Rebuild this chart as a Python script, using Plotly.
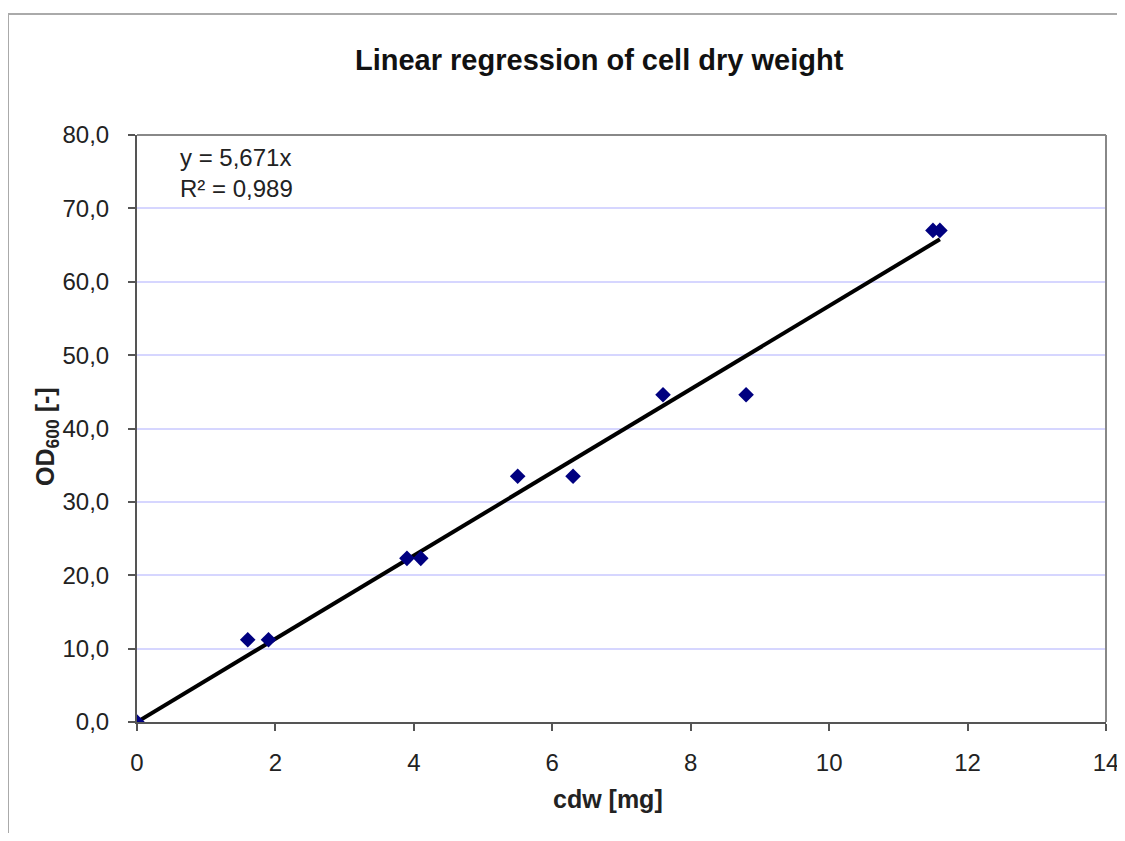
import plotly.graph_objects as go

cdw = [0, 1.6, 1.9, 3.9, 4.1, 5.5, 6.3, 7.6, 8.8, 11.5, 11.6]
od600 = [0, 11.2, 11.2, 22.3, 22.3, 33.5, 33.5, 44.6, 44.6, 67.0, 67.0]
slope = 5.671
fit_x = [0, 11.6]
fit_y = [slope * v for v in fit_x]
eq_text = "y = 5,671x<br>R² = 0,989"

# page body margin offset (8px) compensation; keep page within the window
OFF = 8
W, H = 1125 - OFF - 4, 841 - 2 * OFF
L, R, T, B = 137 - OFF, 1106 - OFF, 135 - OFF, 722 - OFF
ml, mr, mt, mb = L, W - R, T, H - B
pw, ph = R - L, B - T

def px(xs):
    return (xs - OFF - L) / pw

def py(ys):
    return (B - (ys - OFF)) / ph

FONT = "Liberation Sans, Arial, sans-serif"

fig = go.Figure()
fig.add_trace(go.Scatter(x=fit_x, y=fit_y, mode="lines",
                         line=dict(color="black", width=4), hoverinfo="skip",
                         showlegend=False))
fig.add_trace(go.Scatter(x=cdw, y=od600, mode="markers",
                         marker=dict(symbol="diamond", size=12, color="#000080"),
                         showlegend=False))

fig.update_layout(
    width=W, height=H,
    margin=dict(l=ml, r=mr, t=mt, b=mb, pad=0, autoexpand=False),
    paper_bgcolor="white", plot_bgcolor="white",
    separators=", ",
    font=dict(family=FONT, size=24, color="#222"),
    xaxis=dict(range=[0, 14], dtick=2, tick0=0, showgrid=False, zeroline=False,
               automargin=False,
               showline=True, linecolor="#555", linewidth=2, mirror=False,
               ticks="outside", ticklen=7, tickcolor="#555", tickwidth=1.5,
               ticklabelstandoff=11, ticklabeloverflow="allow",
               tickfont=dict(size=24, color="#222")),
    yaxis=dict(range=[0, 80], dtick=10, tick0=0, tickformat=".1f",
               automargin=False,
               showgrid=True, gridcolor="#d6d6ff", gridwidth=1.5, zeroline=False,
               showline=True, linecolor="#555", linewidth=2,
               ticks="outside", ticklen=7, tickcolor="#555", tickwidth=1.5,
               ticklabelstandoff=14,
               tickfont=dict(size=24, color="#222")),
    shapes=[
        # plot area top and right border
        dict(type="line", xref="paper", yref="paper", x0=0, x1=1, y0=1, y1=1,
             line=dict(color="#888", width=2)),
        dict(type="line", xref="paper", yref="paper", x0=1, x1=1, y0=0, y1=1,
             line=dict(color="#888", width=2)),
        # outer chart border (top and left)
        dict(type="line", xref="paper", yref="paper", x0=px(8), x1=px(1125), y0=py(14), y1=py(14),
             line=dict(color="#aaa", width=2)),
        dict(type="line", xref="paper", yref="paper", x0=px(8), x1=px(8), y0=py(14), y1=py(841),
             line=dict(color="#aaa", width=2)),
    ],
    annotations=[
        dict(text="<b>Linear regression of cell dry weight</b>", xref="paper", yref="paper",
             x=px(599), y=py(60), xanchor="center", yanchor="middle", showarrow=False,
             font=dict(size=29, color="#111")),
        dict(text="<b>cdw [mg]</b>", xref="paper", yref="paper",
             x=px(608), y=py(799), xanchor="center", yanchor="middle", showarrow=False,
             font=dict(size=25, color="#222")),
        dict(text="<b>OD<sub>600</sub> [-]</b>", xref="paper", yref="paper", textangle=-90,
             x=px(47), y=py(437), xanchor="center", yanchor="middle", showarrow=False,
             font=dict(size=25, color="#222")),
        dict(text=eq_text, xref="paper", yref="paper", x=px(178), y=py(142),
             xanchor="left", yanchor="top", align="left", showarrow=False,
             font=dict(size=24, color="#222")),
    ],
)

fig.write_html("out.html")
